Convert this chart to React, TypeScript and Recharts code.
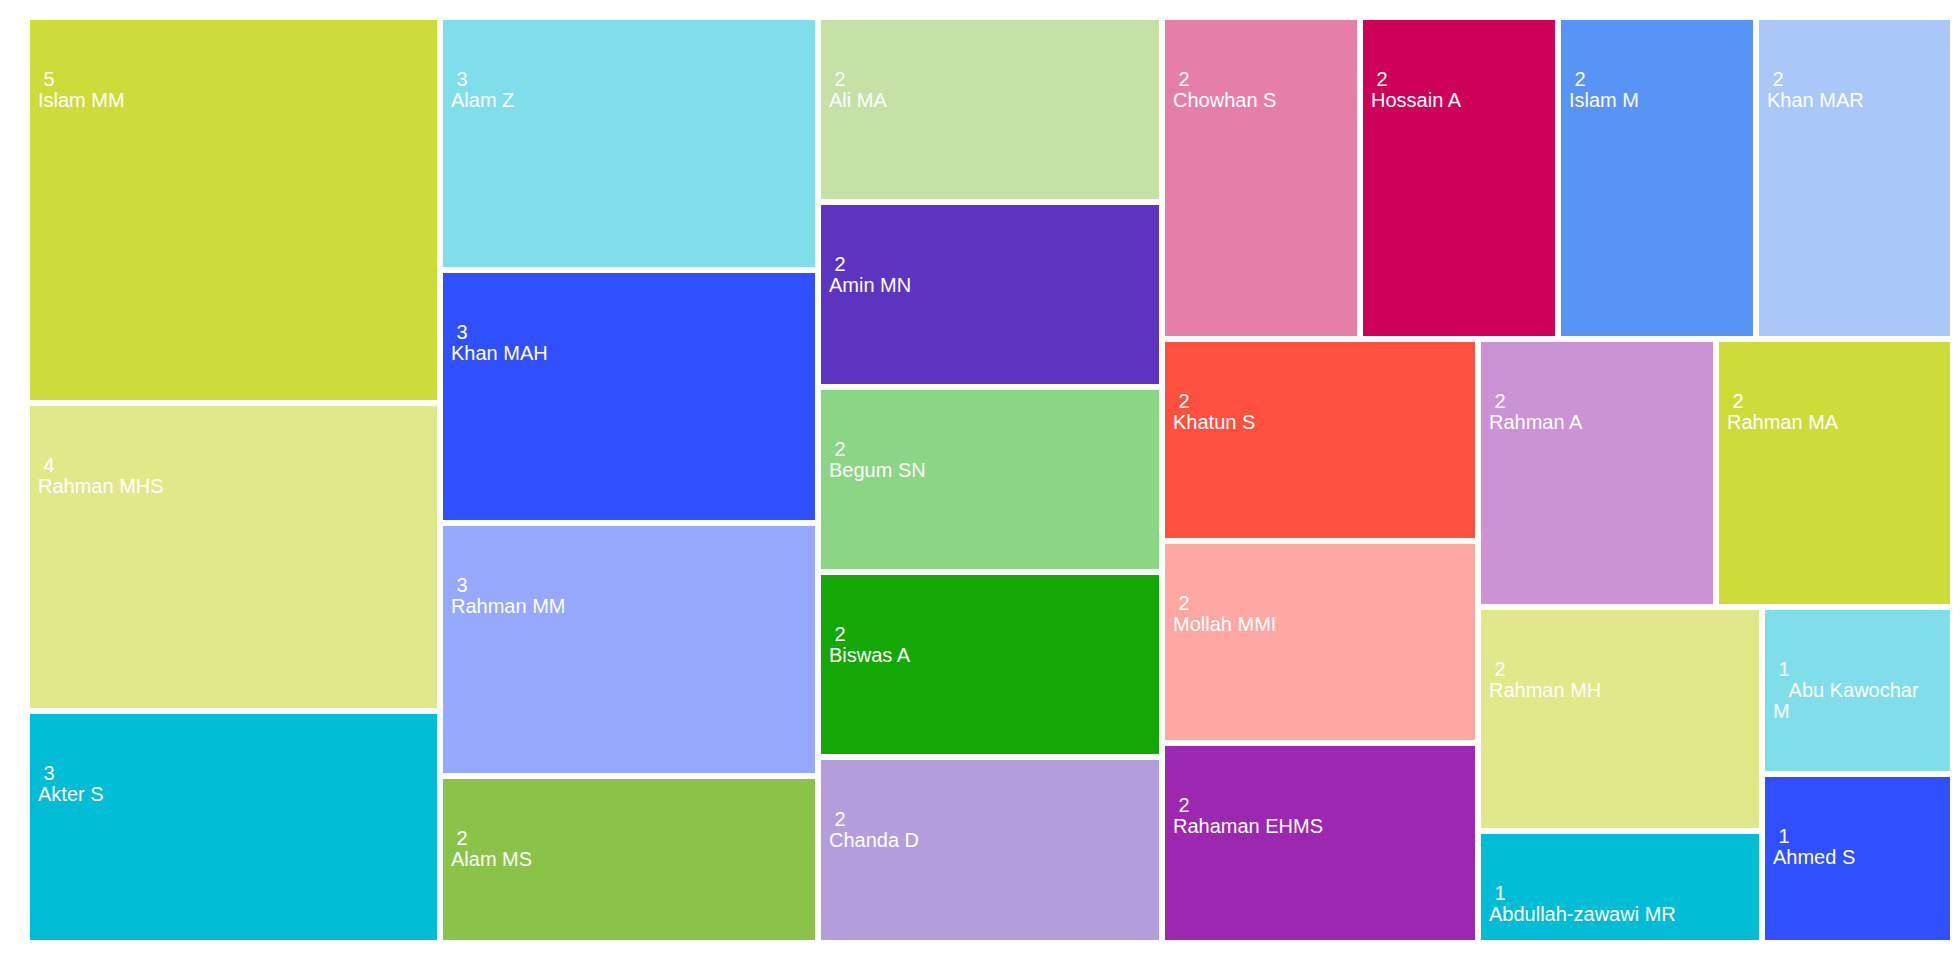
import React from 'react';
import { Treemap } from 'recharts';

// Papers per author, in layout order
const authors = [
  'Islam MM', 'Rahman MHS', 'Akter S',
  'Alam Z', 'Khan MAH', 'Rahman MM', 'Alam MS',
  'Ali MA', 'Amin MN', 'Begum SN', 'Biswas A', 'Chanda D',
  'Chowhan S', 'Hossain A', 'Islam M', 'Khan MAR',
  'Khatun S', 'Mollah MMI', 'Rahaman EHMS',
  'Rahman A', 'Rahman MA',
  'Rahman MH', 'Abdullah-zawawi MR',
  '   Abu Kawochar M', 'Ahmed S',
];

const papers = [
  5, 4, 3,
  3, 3, 3, 2,
  2, 2, 2, 2, 2,
  2, 2, 2, 2,
  2, 2, 2,
  2, 2,
  2, 1,
  1, 1,
];

const palette = [
  '#cddc39', '#e1e88a', '#00bcd4',
  '#80deea', '#304ffe', '#96a8ff', '#8bc34a',
  '#c5e1a5', '#5d34bf', '#8bd584', '#14a806', '#b39ddb',
  '#e57faa', '#cf0058', '#5894f5', '#aac7f9',
  '#ff4f3f', '#ffa7a0', '#9c27b0',
  '#cb92d6', '#cddc39',
  '#e1e88a', '#00bcd4',
  '#80deea', '#304ffe',
];

const data = authors.map((name, i) => ({ name, size: papers[i] }));

const FONT_SIZE = 20;
const FONT_FAMILY = '"Liberation Sans", Arial, sans-serif';
const LINE = 21;

let measureCtx: CanvasRenderingContext2D | null = null;
const textWidth = (s: string) => {
  if (!measureCtx) measureCtx = document.createElement('canvas').getContext('2d');
  if (!measureCtx) return s.length * FONT_SIZE * 0.55;
  measureCtx.font = `${FONT_SIZE}px ${FONT_FAMILY}`;
  return measureCtx.measureText(s).width;
};

const wrapWords = (text: string, maxWidth: number) => {
  const lines: string[] = [];
  let cur: string | null = null;
  for (const w of text.split(' ')) {
    const next: string = cur === null ? w : `${cur} ${w}`;
    if (cur !== null && cur.trim() && textWidth(next) > maxWidth) {
      lines.push(cur);
      cur = w;
    } else {
      cur = next;
    }
  }
  if (cur !== null) lines.push(cur);
  return lines;
};

const Tile = (props: any) => {
  const { x, y, width, height, depth, index, name, value } = props;
  if (depth === 0) return null;
  const lines = wrapWords(String(name), width - 40);
  const tx = x + 11;
  return (
    <g>
      <rect
        x={x}
        y={y}
        width={width}
        height={height}
        fill={palette[index % palette.length]}
        stroke="#fff"
        strokeWidth={6}
      />
      <text
        x={tx}
        y={y + 69}
        fill="#fff"
        stroke="none"
        fontSize={FONT_SIZE}
        fontWeight="normal"
        fontFamily={FONT_FAMILY}
        style={{ whiteSpace: 'pre' }}
      >
        <tspan x={tx}>{` ${value}`}</tspan>
        {lines.map((l, i) => (
          <tspan key={i} x={tx} dy={LINE}>
            {l}
          </tspan>
        ))}
      </text>
    </g>
  );
};

export default function App() {
  return (
    <div style={{ padding: '9px 0 0 19px' }}>
      <Treemap
        width={1926}
        height={926}
        data={data}
        dataKey="size"
        nameKey="name"
        stroke="#fff"
        content={<Tile />}
        isAnimationActive={false}
      />
    </div>
  );
}
